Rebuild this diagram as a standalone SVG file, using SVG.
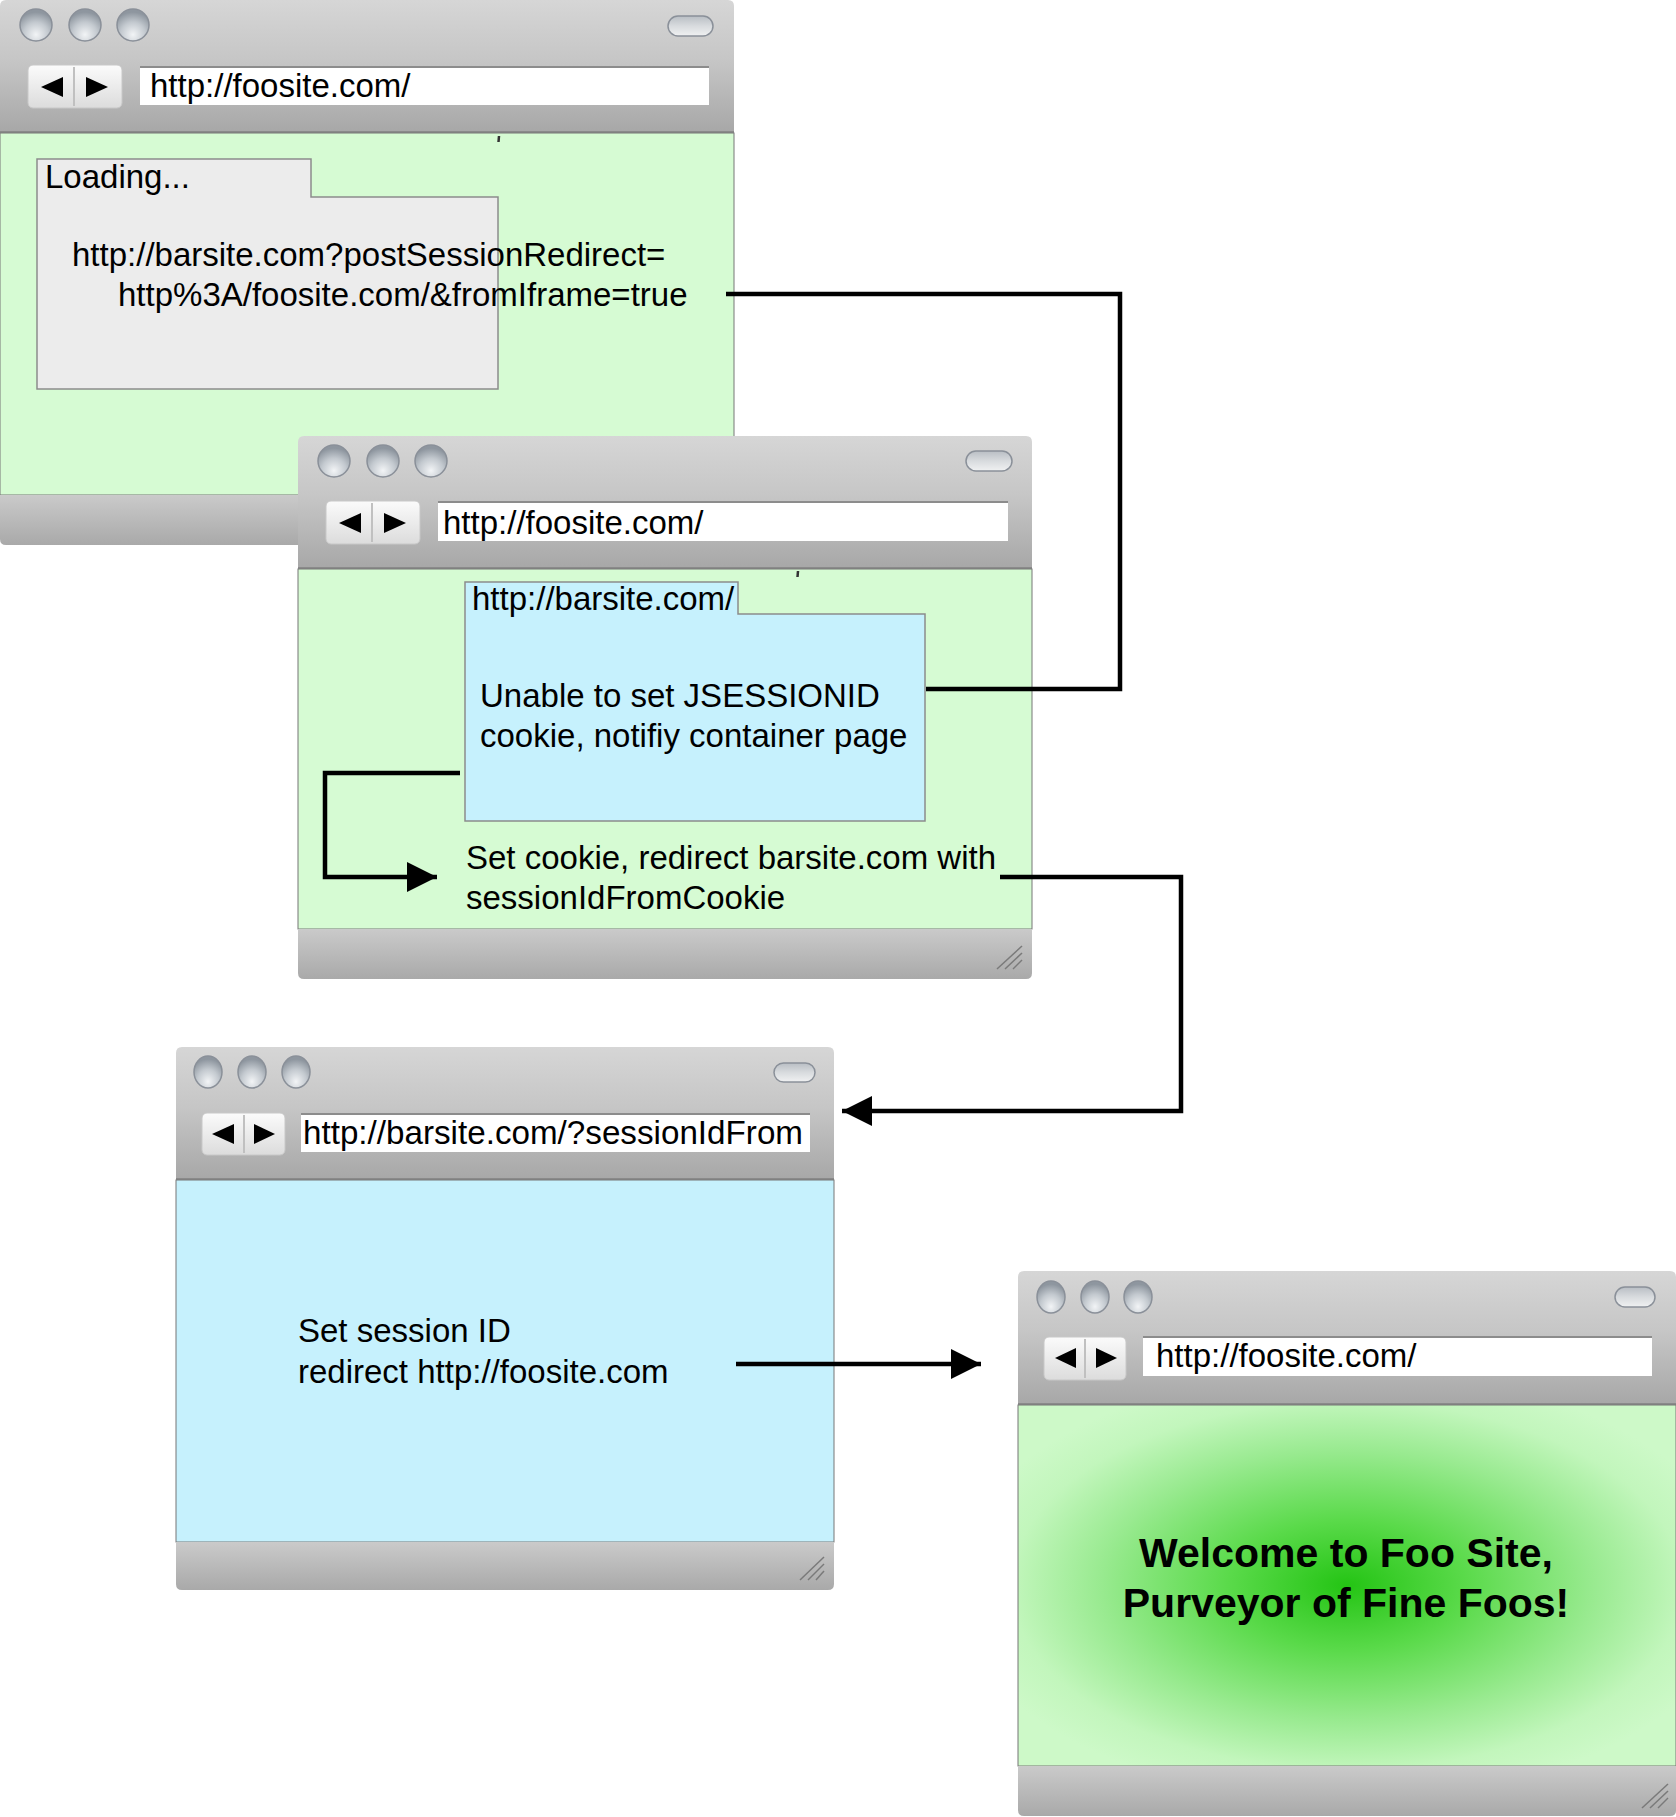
<svg xmlns="http://www.w3.org/2000/svg" width="1676" height="1817" viewBox="0 0 1676 1817">
<style>
.t{font-family:"Liberation Sans",Arial,Helvetica,sans-serif;font-size:33px;fill:#000}
.tb{font-family:"Liberation Sans",Arial,Helvetica,sans-serif;font-size:41px;font-weight:bold;fill:#000}
.hdr{fill:url(#gHdr)}
.hline{stroke:#808080;stroke-width:1.5}
.bot{fill:url(#gBot)}
.btn{fill:url(#gBtn);stroke:#8a9099;stroke-width:1.5}
.pill{fill:url(#gPill);stroke:#8a9099;stroke-width:1.5}
.nav{fill:url(#gNav);stroke:#c8c8c8;stroke-width:1}
.sep{stroke:#c0c0c0;stroke-width:2}
.tri{fill:#000}
.url{fill:#fff}
.urltop{stroke:#8c8c8c;stroke-width:2}
.green{fill:#d6fbd3;stroke:#777;stroke-width:1}
.blue{fill:#c6f1fd;stroke:#777;stroke-width:1}
.lbox{fill:#ececec;stroke:#8c8c8c;stroke-width:1.5}
.bbox{fill:#c6f1fd;stroke:#8c8c8c;stroke-width:1.5}
.grip{stroke:#7a7a7a;stroke-width:1.5}
.tick{stroke:#333;stroke-width:2.5}
.conn{fill:none;stroke:#000;stroke-width:4.5;stroke-linejoin:miter}
</style>
<defs>
<linearGradient id="gHdr" x1="0" y1="0" x2="0" y2="1">
<stop offset="0" stop-color="#d6d6d6"/><stop offset="0.45" stop-color="#c6c6c6"/><stop offset="1" stop-color="#a7a7a7"/>
</linearGradient>
<linearGradient id="gBot" x1="0" y1="0" x2="0" y2="1">
<stop offset="0" stop-color="#cacaca"/><stop offset="1" stop-color="#a9a9a9"/>
</linearGradient>
<radialGradient id="gBtn" cx="0.5" cy="0.8" r="0.7">
<stop offset="0" stop-color="#f2f4f6"/><stop offset="0.55" stop-color="#c3c9cf"/><stop offset="1" stop-color="#8e969f"/>
</radialGradient>
<linearGradient id="gPill" x1="0" y1="0" x2="0" y2="1">
<stop offset="0" stop-color="#b9bec4"/><stop offset="0.5" stop-color="#d8dbde"/><stop offset="1" stop-color="#f0f1f2"/>
</linearGradient>
<linearGradient id="gNav" x1="0" y1="0" x2="0" y2="1">
<stop offset="0" stop-color="#fbfbfb"/><stop offset="1" stop-color="#dcdcdc"/>
</linearGradient>
<radialGradient id="gWel" cx="0.5" cy="0.5" r="0.6">
<stop offset="0" stop-color="#24c414"/><stop offset="0.3" stop-color="#5ada4a"/><stop offset="0.62" stop-color="#98ea8f"/><stop offset="0.85" stop-color="#c2f6bc"/><stop offset="1" stop-color="#cdf9c8"/>
</radialGradient>
<marker id="arr" markerUnits="userSpaceOnUse" markerWidth="30" markerHeight="30" refX="30" refY="15" orient="auto">
<path d="M0,0 L30,15 L0,30 Z" fill="#000"/>
</marker>
</defs>

<g id="window1">
<path class="hdr" d="M0,133 V6 Q0,0 6,0 H728 Q734,0 734,6 V133 Z"/>
<line class="hline" x1="0" y1="132" x2="734" y2="132"/>
<ellipse class="btn" cx="36" cy="25" rx="16" ry="16"/>
<ellipse class="btn" cx="85" cy="25" rx="16" ry="16"/>
<ellipse class="btn" cx="133" cy="25" rx="16" ry="16"/>
<rect class="pill" x="668" y="16" width="45" height="20" rx="10"/>
<rect class="nav" x="28" y="65" width="94" height="43" rx="5"/>
<line class="sep" x1="74" y1="67" x2="74" y2="106"/>
<path class="tri" d="M41,87 L63,77 L63,97 Z"/>
<path class="tri" d="M108,87 L86,77 L86,97 Z"/>
<rect class="url" x="140" y="66" width="569" height="39"/>
<line class="urltop" x1="140" y1="67" x2="709" y2="67"/>
<text class="t" x="150" y="97">http://foosite.com/</text>
<rect class="green" x="0" y="133" width="734" height="362"/>
<path class="bot" d="M0,495 H734 V539 Q734,545 728,545 H6 Q0,545 0,539 Z"/>
<line class="tick" x1="499" y1="136" x2="498.5" y2="142"/>
<path class="lbox" d="M37,389 V159 H311 V197 H498 V389 Z"/>
<text class="t" x="45" y="188">Loading...</text>
<text class="t" x="72" y="266">http://barsite.com?postSessionRedirect=</text>
<text class="t" x="118" y="306">http%3A/foosite.com/&amp;fromIframe=true</text>
</g>

<g id="window2">
<path class="hdr" d="M298,569 V442 Q298,436 304,436 H1026 Q1032,436 1032,442 V569 Z"/>
<line class="hline" x1="298" y1="568" x2="1032" y2="568"/>
<ellipse class="btn" cx="334" cy="461" rx="16" ry="16"/>
<ellipse class="btn" cx="383" cy="461" rx="16" ry="16"/>
<ellipse class="btn" cx="431" cy="461" rx="16" ry="16"/>
<rect class="pill" x="966" y="451" width="46" height="20" rx="10"/>
<rect class="nav" x="326" y="501" width="94" height="43" rx="5"/>
<line class="sep" x1="372" y1="503" x2="372" y2="542"/>
<path class="tri" d="M339,523 L361,513 L361,533 Z"/>
<path class="tri" d="M406,523 L384,513 L384,533 Z"/>
<rect class="url" x="438" y="501" width="570" height="40"/>
<line class="urltop" x1="438" y1="502" x2="1008" y2="502"/>
<text class="t" x="443" y="534">http://foosite.com/</text>
<rect class="green" x="298" y="569" width="734" height="360"/>
<path class="bot" d="M298,929 H1032 V973 Q1032,979 1026,979 H304 Q298,979 298,973 Z"/>
<line class="grip" x1="997" y1="969" x2="1022" y2="946"/>
<line class="grip" x1="1005" y1="969" x2="1022" y2="953"/>
<line class="grip" x1="1013" y1="969" x2="1022" y2="960"/>
<line class="tick" x1="798" y1="571" x2="797.5" y2="577"/>
<path class="bbox" d="M465,821 V582 H738 V614 H925 V821 Z"/>
<text class="t" x="472" y="610">http://barsite.com/</text>
<text class="t" x="480" y="707">Unable to set JSESSIONID</text>
<text class="t" x="480" y="747">cookie, notifiy container page</text>
<text class="t" x="466" y="869">Set cookie, redirect barsite.com with</text>
<text class="t" x="466" y="909">sessionIdFromCookie</text>
</g>

<g id="window3">
<path class="hdr" d="M176,1180 V1053 Q176,1047 182,1047 H828 Q834,1047 834,1053 V1180 Z"/>
<line class="hline" x1="176" y1="1179" x2="834" y2="1179"/>
<ellipse class="btn" cx="208" cy="1072" rx="14" ry="16"/>
<ellipse class="btn" cx="252" cy="1072" rx="14" ry="16"/>
<ellipse class="btn" cx="296" cy="1072" rx="14" ry="16"/>
<rect class="pill" x="774" y="1063" width="41" height="19" rx="9.5"/>
<rect class="nav" x="202" y="1113" width="83" height="42" rx="5"/>
<line class="sep" x1="244" y1="1115" x2="244" y2="1153"/>
<path class="tri" d="M212,1134 L234,1124 L234,1144 Z"/>
<path class="tri" d="M275,1134 L254,1124 L254,1144 Z"/>
<rect class="url" x="301" y="1113" width="509" height="39"/>
<line class="urltop" x1="301" y1="1114" x2="810" y2="1114"/>
<text class="t" x="303" y="1144" textLength="500" lengthAdjust="spacingAndGlyphs">http://barsite.com/?sessionIdFrom</text>
<rect class="blue" x="176" y="1180" width="658" height="362"/>
<path class="bot" d="M176,1542 H834 V1584 Q834,1590 828,1590 H182 Q176,1590 176,1584 Z"/>
<line class="grip" x1="800" y1="1580" x2="824" y2="1557"/>
<line class="grip" x1="808" y1="1580" x2="824" y2="1564"/>
<line class="grip" x1="816" y1="1580" x2="824" y2="1571"/>
<text class="t" x="298" y="1342">Set session ID</text>
<text class="t" x="298" y="1383">redirect http://foosite.com</text>
</g>

<g id="window4">
<path class="hdr" d="M1018,1405 V1277 Q1018,1271 1024,1271 H1670 Q1676,1271 1676,1277 V1405 Z"/>
<line class="hline" x1="1018" y1="1404" x2="1676" y2="1404"/>
<ellipse class="btn" cx="1051" cy="1297" rx="14" ry="16"/>
<ellipse class="btn" cx="1095" cy="1297" rx="14" ry="16"/>
<ellipse class="btn" cx="1138" cy="1297" rx="14" ry="16"/>
<rect class="pill" x="1615" y="1287" width="40" height="20" rx="10"/>
<rect class="nav" x="1044" y="1337" width="82" height="43" rx="5"/>
<line class="sep" x1="1085" y1="1339" x2="1085" y2="1378"/>
<path class="tri" d="M1055,1358 L1076,1348 L1076,1368 Z"/>
<path class="tri" d="M1117,1358 L1096,1348 L1096,1368 Z"/>
<rect class="url" x="1143" y="1336" width="509" height="40"/>
<line class="urltop" x1="1143" y1="1337" x2="1652" y2="1337"/>
<text class="t" x="1156" y="1367">http://foosite.com/</text>
<rect x="1018" y="1405" width="658" height="361" fill="url(#gWel)" stroke="#777" stroke-width="1"/>
<path class="bot" d="M1018,1766 H1676 V1811 Q1676,1816 1670,1816 H1024 Q1018,1816 1018,1810 Z"/>
<line class="grip" x1="1642" y1="1808" x2="1668" y2="1784"/>
<line class="grip" x1="1650" y1="1808" x2="1668" y2="1791"/>
<line class="grip" x1="1658" y1="1808" x2="1668" y2="1798"/>
<text class="tb" x="1346" y="1567" text-anchor="middle">Welcome to Foo Site,</text>
<text class="tb" x="1346" y="1617" text-anchor="middle">Purveyor of Fine Foos!</text>
</g>

<g id="connectors">
<path class="conn" d="M726,294 H1120 V689 H926"/>
<path class="conn" d="M460,773 H325 V877 H437" marker-end="url(#arr)"/>
<path class="conn" d="M1000,877 H1181 V1111 H842" marker-end="url(#arr)"/>
<path class="conn" d="M736,1364 H981" marker-end="url(#arr)"/>
</g>
</svg>
